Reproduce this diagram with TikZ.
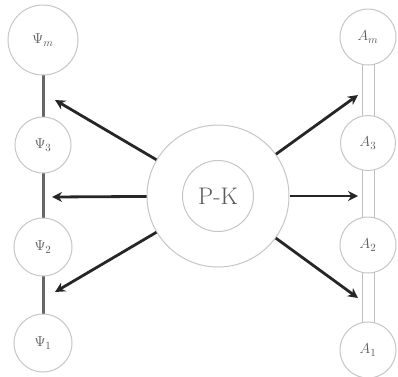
\documentclass[tikz,border=0pt]{standalone}
\usetikzlibrary{arrows.meta}
\begin{document}
\begin{tikzpicture}[x=1pt,y=-1pt,
  ring/.style={circle,draw=gray!45,line width=1pt,fill=white,inner sep=0pt,text=black!65,font=\fontsize{15}{18}\selectfont},
  psiline/.style={draw=black!60,line width=3pt},
  aline/.style={draw=gray!50,line width=1pt},
  push/.style={draw=black!85,line width=2.8pt,-{Stealth[length=10pt,width=10pt]}}]
\useasboundingbox (0,0) rectangle (398,376);

% left chain of potentials
\coordinate (ltop) at (43,40);
\coordinate (lbot) at (43,343);
\draw[psiline] (ltop) -- (lbot);

% right chain of amplitudes, drawn as a double rail
\coordinate (rtopl) at (362,37);
\coordinate (rbotl) at (362,350);
\coordinate (rtopr) at (374,37);
\coordinate (rbotr) at (374,350);
\draw[aline] (rtopl) -- (rbotl);
\draw[aline] (rtopr) -- (rbotr);

\node[ring,minimum size=70pt] (pm) at (43,40) {$\Psi_m$};
\node[ring,minimum size=56pt] (p3) at (43,145) {$\Psi_3$};
\node[ring,minimum size=58pt] (p2) at (43,247) {$\Psi_2$};
\node[ring,minimum size=58pt] (p1) at (43,343) {$\Psi_1$};

\node[ring,minimum size=56pt] (am) at (368,37) {$A_m$};
\node[ring,minimum size=55pt] (a3) at (368,143) {$A_3$};
\node[ring,minimum size=56pt] (a2) at (368,245) {$A_2$};
\node[ring,minimum size=56pt] (a1) at (368,350) {$A_1$};

% central operator
\node[ring,minimum size=142pt] (outer) at (218,196) {};
\node[ring,minimum size=71pt,font=\fontsize{24}{28}\selectfont] (pk) at (218,196) {P-K};

% arrow targets on the chains
\coordinate (tl1) at (55,100);
\coordinate (tl2) at (52,197);
\coordinate (tl3) at (55,292);
\coordinate (tr1) at (358,95);
\coordinate (tr2) at (358,196);
\coordinate (tr3) at (358,298);

\draw[push] (outer) -- (tl1);
\draw[push] (outer) -- (tl2);
\draw[push] (outer) -- (tl3);
\draw[push] (outer) -- (tr1);
\draw[push] (outer) -- (tr2);
\draw[push] (outer) -- (tr3);
\end{tikzpicture}
\end{document}
